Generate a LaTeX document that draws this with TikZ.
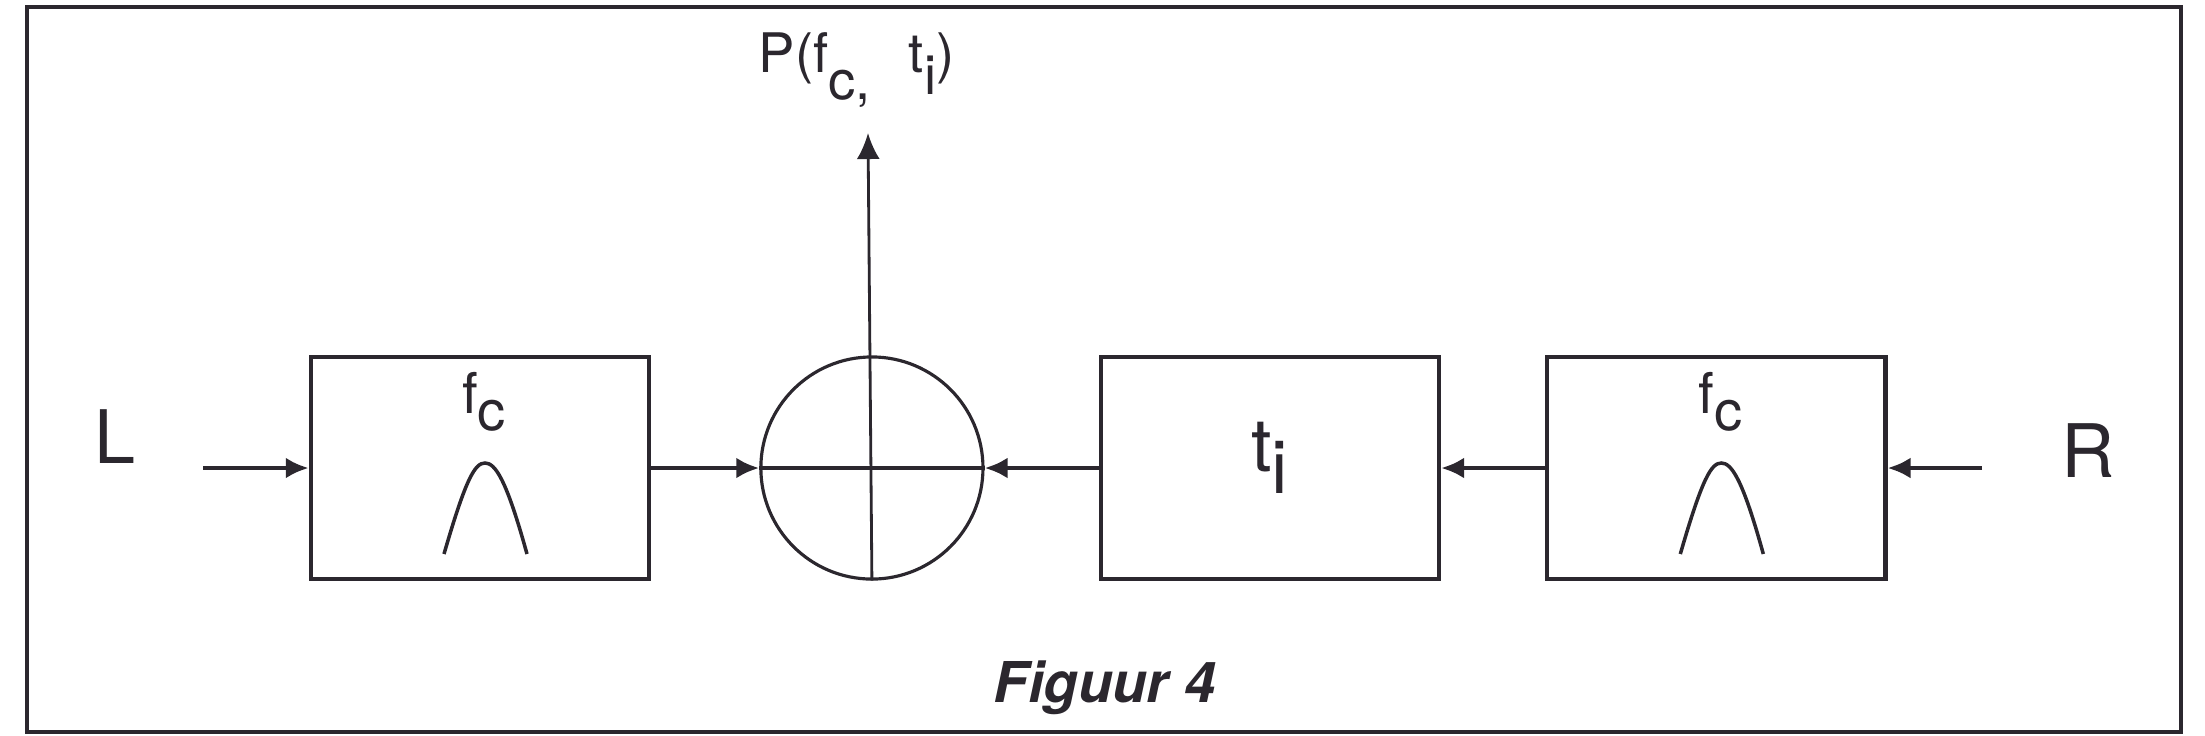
\documentclass[tikz,border=0pt]{standalone}
\usepackage{fontspec}
\setmainfont{TeX Gyre Heros}
\usepackage{xcolor}
\usepackage{tikz}
\usetikzlibrary{arrows.meta,positioning}
\definecolor{ink}{HTML}{2B272E}

\begin{document}
\begin{tikzpicture}[
    x=0.01cm, y=-0.01cm, color=ink,
    block/.style={draw, line width=1.2pt, minimum width=3.38cm, minimum height=2.22cm, inner sep=0pt},
    mixer/.style={draw, circle, line width=0.9pt, minimum size=2.22cm, inner sep=0pt},
    sym/.style={inner sep=0pt, anchor=base},
    bigsym/.style={sym, font=\fontsize{21}{24}\selectfont},
    bump/.style={line width=1pt},
    arr/.style={-{Latex[length=2.3mm, width=2.1mm]}, line width=1.3pt},
    outarr/.style={-{Latex[length=2.6mm, width=2.3mm]}, line width=0.8pt}
  ]
    \useasboundingbox (0,0) rectangle (2205,735);
    \draw[line width=1.1pt] (27,7) rectangle (2181,732);

    \node[block] (filtL) at (480,468) {};
    \node[mixer, right=1.08cm of filtL] (mix) {};
    \node[block, right=1.14cm of mix] (delay) {};
    \node[block, right=1.04cm of delay] (filtR) {};

    \foreach \b in {filtL,filtR} {
      \node[sym, font=\fontsize{16}{19}\selectfont] (fc\b) at ([xshift=0.04cm, yshift=0.54cm]\b.center) {f\raisebox{-0.3em}{c}};
      \draw[bump, shift={(\b.center)}] (-36,86) .. controls (-14,10) and (-5,-5) .. (5,-5)
        .. controls (15,-5) and (26,10) .. (47,86);
    }
    \node[bigsym] (ti) at ([yshift=-0.03cm]delay.center) {t\raisebox{-0.3em}{i}};

    \node[bigsym, anchor=base west] (inL) at (94,463) {L};
    \node[bigsym, anchor=base west] (inR) at (2061,477) {R};
    \node[sym, anchor=base west, font=\fontsize{15.5}{18}\selectfont] (pfun) at (758,72)
      {P(f\raisebox{-0.5em}{c,}\hspace{0.7em}t\raisebox{-0.42em}{i})};
    \node[sym, anchor=base west, font=\fontsize{16}{19}\selectfont\bfseries\itshape] (caption) at (993,702) {Figuur 4};

    \coordinate (srcL) at (203,468);
    \coordinate (srcR) at (1982,468);
    \coordinate (pout) at (868,133);

    \draw[arr] (srcL) -- (filtL.west);
    \draw[arr] (filtL.east) -- (mix.west);
    \draw[arr] (delay.west) -- (mix.east);
    \draw[arr] (filtR.west) -- (delay.east);
    \draw[arr] (srcR) -- (filtR.east);
    \draw[line width=1.3pt] (mix.west) -- (mix.east);
    \draw[outarr] (mix.south) -- (pout);
  \end{tikzpicture}
\end{document}
